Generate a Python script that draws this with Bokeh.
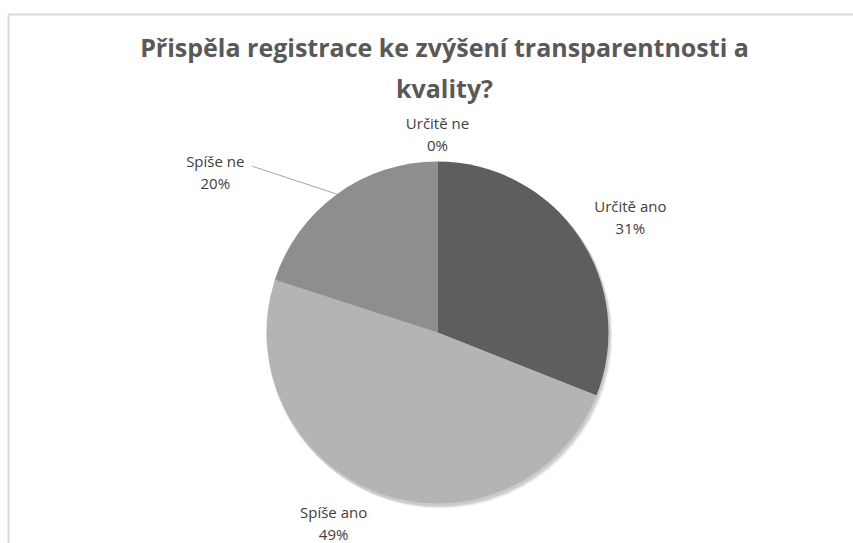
import math
from bokeh.plotting import figure
from bokeh.models import Range1d, ColumnDataSource
from bokeh.core.properties import value
from bokeh.embed import file_html
from bokeh.resources import INLINE

# ---- data ----
title_lines = ["Přispěla registrace ke zvýšení transparentnosti a", "kvality?"]
categories = ["Určitě ano", "Spíše ano", "Spíše ne", "Určitě ne"]
shares = [31, 49, 20, 0]
colors = ["#5e5e5e", "#b4b4b4", "#8e8e8e", "#7a7a7a"]

# ---- layout ----
W, H = 853, 543
cx, cy, r = 437, 211, 171

p = figure(width=W, height=H, output_backend="svg", toolbar_location=None,
           x_range=Range1d(0, W), y_range=Range1d(0, H), min_border=0,
           outline_line_color=None)
p.axis.visible = False
p.grid.visible = False
p.background_fill_color = "white"

# chart-area border (continues past right/bottom)
p.quad(left=[8], right=[W + 20], top=[H - 14], bottom=[-20],
       fill_color=None, line_color="#d9d9d9", line_width=2)

# soft shadow
for off, a in [((3, -4), 0.05), ((2, -3), 0.07), ((1, -2), 0.09)]:
    p.circle(x=[cx + off[0]], y=[cy + off[1]], radius=r + 1, fill_color="black",
             fill_alpha=a, line_color=None)

total = float(sum(shares))
starts, ends, mids = [], [], []
cum = 0.0
for s in shares:
    a0 = math.pi / 2 - 2 * math.pi * cum / total
    cum += s
    a1 = math.pi / 2 - 2 * math.pi * cum / total
    starts.append(a0)
    ends.append(a1)
    mids.append((a0 + a1) / 2)

keep = [i for i, s in enumerate(shares) if s > 0]
src = ColumnDataSource(dict(start=[starts[i] for i in keep], end=[ends[i] for i in keep],
                            color=[colors[i] for i in keep],
                            cat=[categories[i] for i in keep]))
p.wedge(x=cx, y=cy, radius=r, start_angle="start", end_angle="end",
        direction="clock", fill_color="color", line_color=None, source=src)

# data labels: (radial distance, angular tweak in degrees) per slice
label_r = [225, 217, 274, 199]
label_tweak = [-3.2, -8.8, 18.2, 0]
lx, ly = [], []
for m, rr, tw in zip(mids, label_r, label_tweak):
    ang = m + math.radians(tw)
    lx.append(cx + rr * math.cos(ang))
    ly.append(cy + rr * math.sin(ang))

font = value("Open Sans")
p.text(x=lx, y=[y + 11 for y in ly], text=categories, text_font=font,
       text_font_size="15px", text_color="#404040", text_align="center",
       text_baseline="middle")
p.text(x=lx, y=[y - 11 for y in ly], text=[f"{s}%" for s in shares], text_font=font,
       text_font_size="15px", text_color="#404040", text_align="center",
       text_baseline="middle")

# leader line for "Spíše ne"
i = 2
p.line(x=[lx[i] + 37, cx + r * math.cos(mids[i])],
       y=[ly[i] + 6, cy + r * math.sin(mids[i])],
       line_color="#a6a6a6", line_width=1)

# title
p.text(x=[444, 444], y=[H - 46, H - 87], text=title_lines, text_font=font,
       text_font_style="bold", text_font_size="25px", text_color="#595959",
       text_align="center", text_baseline="middle")

open("out.html", "w").write(file_html(p, INLINE))
